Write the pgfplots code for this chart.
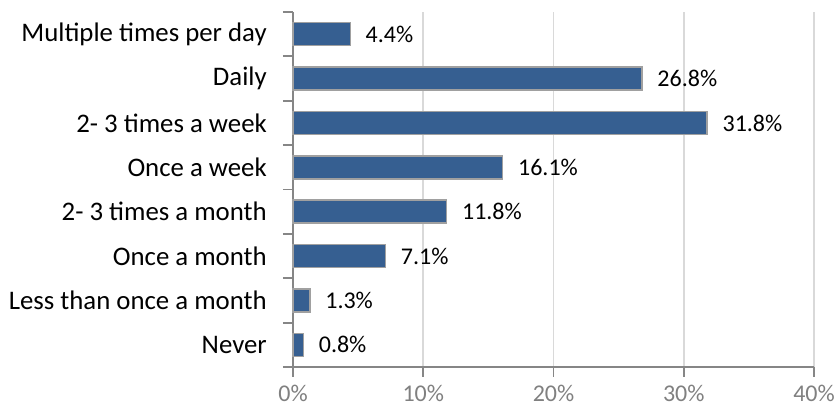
\documentclass[border=0pt]{standalone}
\usepackage{fontspec}
\setmainfont{Carlito}
\usepackage{pgfplots}
\pgfplotsset{compat=1.18}

\definecolor{barblue}{RGB}{54,95,145}
\definecolor{baredge}{RGB}{160,160,160}
\definecolor{axisgray}{RGB}{134,134,134}
\definecolor{gridgray}{RGB}{217,217,217}
\definecolor{labelgray}{RGB}{128,128,128}

\begin{document}
\begin{tikzpicture}
\useasboundingbox (0,0) rectangle (417.5pt,203pt);
\begin{axis}[
    at={(146.5pt,19.5pt)}, anchor=south west,
    scale only axis,
    width=260.5pt, height=177.5pt,
    xbar,
    bar width=11.5pt,
    xmin=0, xmax=40,
    ymin=-0.5, ymax=7.5,
    xtick={0,10,20,30,40},
    minor xtick={0,10,20,30,40},
    ytick={0,...,7},
    minor ytick={-0.5,0.5,...,7.5},
    yticklabels={Never, Less than once a month, Once a month, 2- 3 times a month, Once a week, 2- 3 times a week, Daily, Multiple times per day},
    xticklabel={\pgfmathprintnumber{\tick}\%},
    /pgf/number format/assume math mode=true,
    axis lines*=left,
    axis line style={draw=axisgray, line width=0.9pt},
    tick align=outside,
    major tick length=0pt,
    minor tick length=5pt,
    minor tick style={draw=axisgray, line width=0.9pt},
    xmajorgrids,
    major grid style={draw=gridgray, line width=0.8pt},
    yticklabel style={font=\fontsize{13.4}{15}\selectfont, xshift=-9.6pt, text=black},
    xticklabel style={font=\fontsize{12}{14}\selectfont, yshift=-5.5pt, text=labelgray},
    point meta=x,
    nodes near coords={\pgfmathprintnumber[fixed,precision=1,fixed zerofill]{\pgfplotspointmeta}\%},
    nodes near coords style={font=\fontsize{12}{14}\selectfont, anchor=west, xshift=4pt, text=black},
    clip=false,
]
\addplot[fill=barblue, draw=baredge, line width=0.75pt]
    coordinates {(0.8,0) (1.3,1) (7.1,2) (11.8,3) (16.1,4) (31.8,5) (26.8,6) (4.4,7)};
\end{axis}
\end{tikzpicture}
\end{document}
